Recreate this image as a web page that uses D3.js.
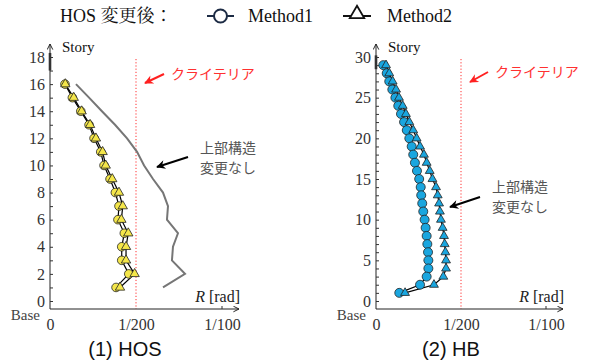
<!DOCTYPE html>
<html>
<head>
<meta charset="utf-8">
<script src="https://cdn.jsdelivr.net/npm/d3@7"></script>
<style>
  html, body { margin: 0; padding: 0; background: #fff; }
  svg { display: block; }
</style>
</head>
<body>
<script>
// story numbers (top -> bottom)
const hosStories = [16, 15, 14, 13, 12, 11, 10, 9, 8, 7, 6, 5, 4, 3, 2, 1];
const hbStories = d3.range(29, 0, -1);

// story drift angle R [rad]
const hosMethod1 = [0.00087, 0.00130, 0.00179, 0.00227, 0.00256, 0.00295, 0.00314, 0.00349,
  0.00380, 0.00401, 0.00395, 0.00432, 0.00417, 0.00417, 0.00458, 0.00384];
const hosMethod2 = [0.00089, 0.00138, 0.00184, 0.00233, 0.00267, 0.00306, 0.00324, 0.00362,
  0.00401, 0.00423, 0.00415, 0.00455, 0.00442, 0.00442, 0.00492, 0.00407];
const hosOriginal = [0.00151, 0.00227, 0.00302, 0.00378, 0.00448, 0.00506, 0.00547, 0.00599,
  0.00657, 0.00686, 0.00680, 0.00744, 0.00715, 0.00709, 0.00785, 0.00657];

const hbMethod1 = [0.00043, 0.00063, 0.00078, 0.00096, 0.00114, 0.00131, 0.00147, 0.00165,
  0.00181, 0.00196, 0.00210, 0.00219, 0.00229, 0.00241, 0.00254, 0.00263, 0.00266, 0.00272,
  0.00278, 0.00286, 0.00292, 0.00298, 0.00302, 0.00306, 0.00308, 0.00308, 0.00298, 0.00259, 0.00137];
const hbMethod2 = [0.00059, 0.00078, 0.00098, 0.00118, 0.00135, 0.00157, 0.00176, 0.00196,
  0.00219, 0.00239, 0.00259, 0.00282, 0.00298, 0.00316, 0.00332, 0.00353, 0.00363, 0.00371,
  0.00376, 0.00382, 0.00392, 0.00400, 0.00404, 0.00408, 0.00412, 0.00412, 0.00396, 0.00341, 0.00171];

const criteria = 1 / 200;
const xTicks = [0, 1 / 200, 1 / 100];
const xTickLabels = ['0', '1/200', '1/100'];

const serif = "'Liberation Serif', 'DejaVu Serif', 'Noto Serif', serif";
const sans = "'Liberation Sans', Arial, sans-serif";
const jp = "'Noto Sans CJK JP', sans-serif";
const legendFont = "'Liberation Serif', 'Noto Serif CJK JP', 'Noto Sans CJK JP', serif";

const width = 601;
const height = 362;

const svg = d3.select('body').append('svg')
  .attr('width', width)
  .attr('height', height)
  .style('background', '#ffffff');

const defs = svg.append('defs');
function arrowMarker(id, color) {
  defs.append('marker')
    .attr('id', id)
    .attr('viewBox', '0 0 10 10')
    .attr('refX', 9)
    .attr('refY', 5)
    .attr('markerWidth', 7)
    .attr('markerHeight', 7)
    .attr('markerUnits', 'userSpaceOnUse')
    .attr('orient', 'auto')
    .append('path')
    .attr('d', 'M1,1 L9,5 L1,9')
    .attr('fill', 'none')
    .attr('stroke', color)
    .attr('stroke-width', 1.4);
}
arrowMarker('axis-arrow', '#222');
function filledArrow(id, color) {
  defs.append('marker')
    .attr('id', id)
    .attr('viewBox', '0 0 10 10')
    .attr('refX', 9)
    .attr('refY', 5)
    .attr('markerWidth', 11)
    .attr('markerHeight', 9)
    .attr('markerUnits', 'userSpaceOnUse')
    .attr('orient', 'auto')
    .append('path')
    .attr('d', 'M0,0 L10,5 L0,10 L3,5 Z')
    .attr('fill', color);
}
filledArrow('red-arrow', '#ff2020');
filledArrow('black-arrow', '#000');

// legend
const legend = svg.append('g');
legend.append('text')
  .attr('x', 60).attr('y', 22)
  .style('font-family', legendFont)
  .attr('font-size', 18)
  .attr('fill', '#111')
  .text('HOS 変更後：');
legend.append('line').attr('x1', 207).attr('x2', 234).attr('y1', 16).attr('y2', 16)
  .attr('stroke', '#1c2b44').attr('stroke-width', 2);
legend.append('circle').attr('cx', 220.5).attr('cy', 16).attr('r', 6.5)
  .attr('fill', '#fff').attr('stroke', '#1c2b44').attr('stroke-width', 2);
legend.append('text').attr('x', 248).attr('y', 22)
  .style('font-family', serif).attr('font-size', 18).attr('fill', '#111').text('Method1');
legend.append('line').attr('x1', 343).attr('x2', 371).attr('y1', 16).attr('y2', 16)
  .attr('stroke', '#111').attr('stroke-width', 2);
legend.append('path')
  .attr('d', d3.symbol(d3.symbolTriangle, 90)())
  .attr('transform', 'translate(357,14)')
  .attr('fill', '#fff').attr('stroke', '#111').attr('stroke-width', 1.8);
legend.append('text').attr('x', 387).attr('y', 22)
  .style('font-family', serif).attr('font-size', 18).attr('fill', '#111').text('Method2');

function drawPanel(opt) {
  const g = svg.append('g');
  const x = d3.scaleLinear().domain([0, 0.01]).range([opt.x0, opt.x1]);
  const y = d3.scaleLinear().domain([0, opt.yMax]).range([301, 57]);
  const axisY = 309;

  // criteria line
  g.append('line')
    .attr('x1', x(criteria)).attr('x2', x(criteria))
    .attr('y1', 59).attr('y2', axisY)
    .attr('stroke', '#ff3030')
    .attr('stroke-width', 1)
    .attr('stroke-dasharray', '1.2 2');

  // y axis
  g.append('line')
    .attr('x1', opt.x0).attr('x2', opt.x0)
    .attr('y1', axisY).attr('y2', 44)
    .attr('stroke', '#222').attr('stroke-width', 1)
    .attr('marker-end', 'url(#axis-arrow)');
  g.append('line')
    .attr('x1', opt.x0).attr('x2', opt.x0)
    .attr('y1', y(opt.thickTop)).attr('y2', y(opt.thickBottom))
    .attr('stroke', '#333').attr('stroke-width', 2.6);

  const minor = g.append('g')
    .attr('transform', `translate(${opt.x0},0)`)
    .call(d3.axisRight(y).tickValues(d3.range(0, opt.yMax + 1)).tickSize(3).tickFormat(''));
  minor.select('.domain').remove();
  minor.selectAll('line').attr('stroke', '#333');

  const labels = g.append('g')
    .attr('transform', `translate(${opt.x0},0)`)
    .call(d3.axisLeft(y).tickValues(d3.range(0, opt.yMax + 1, opt.yStep)).tickSize(0).tickPadding(5));
  labels.select('.domain').remove();
  labels.attr('font-family', null).attr('font-size', null);
  labels.selectAll('text')
    .style('font-family', serif)
    .style('font-size', '16px')
    .attr('fill', '#333');

  // x axis
  g.append('line')
    .attr('x1', opt.x0).attr('x2', opt.x1 + 17)
    .attr('y1', axisY).attr('y2', axisY)
    .attr('stroke', '#222').attr('stroke-width', 1)
    .attr('marker-end', 'url(#axis-arrow)');
  g.append('line')
    .attr('x1', x(0.01)).attr('x2', x(0.01))
    .attr('y1', axisY).attr('y2', axisY - 3)
    .attr('stroke', '#333');

  const xl = g.append('g')
    .attr('transform', `translate(0,${axisY})`)
    .call(d3.axisBottom(x).tickValues(xTicks).tickSize(0).tickPadding(10)
      .tickFormat((d, i) => xTickLabels[i]));
  xl.select('.domain').remove();
  xl.attr('font-family', null).attr('font-size', null);
  xl.selectAll('text')
    .style('font-family', serif)
    .style('font-size', '16px')
    .attr('fill', '#333');

  g.append('text')
    .attr('x', opt.x0 + 12).attr('y', 52)
    .style('font-family', serif).attr('font-size', 15).attr('fill', '#111')
    .text('Story');
  g.append('text')
    .attr('x', opt.x0 - 10).attr('y', 320)
    .attr('text-anchor', 'end')
    .style('font-family', serif).attr('font-size', 15).attr('fill', '#444')
    .text('Base');
  const rl = g.append('text')
    .attr('x', opt.x1 + 18).attr('y', 302)
    .attr('text-anchor', 'end')
    .style('font-family', serif).attr('font-size', 16).attr('fill', '#222');
  rl.append('tspan').attr('font-style', 'italic').text('R');
  rl.append('tspan').text(' [rad]');

  // data lines
  const line = d3.line().x(d => x(d.r)).y(d => y(d.s));
  if (opt.original) {
    g.append('path')
      .datum(opt.stories.map((s, i) => ({ s, r: opt.original[i] })))
      .attr('d', line)
      .attr('fill', 'none')
      .attr('stroke', '#767676')
      .attr('stroke-width', 2);
  }
  const m1 = opt.stories.map((s, i) => ({ s, r: opt.m1[i] }));
  const m2 = opt.stories.map((s, i) => ({ s, r: opt.m2[i] }));

  g.append('path').datum(m1).attr('d', line)
    .attr('fill', 'none').attr('stroke', '#000').attr('stroke-width', 1.2);
  g.append('path').datum(m2).attr('d', line)
    .attr('fill', 'none').attr('stroke', '#000').attr('stroke-width', 1.2);

  g.selectAll('circle.m1').data(m1).enter().append('circle')
    .attr('class', 'm1')
    .attr('cx', d => x(d.r)).attr('cy', d => y(d.s))
    .attr('r', opt.circleR)
    .attr('fill', opt.fill).attr('stroke', '#222').attr('stroke-width', 0.8);

  g.selectAll('path.m2').data(m2).enter().append('path')
    .attr('class', 'm2')
    .attr('d', d3.symbol(d3.symbolTriangle, opt.triSize)())
    .attr('transform', d => `translate(${x(d.r)},${y(d.s)})`)
    .attr('fill', opt.fill).attr('stroke', '#222').attr('stroke-width', 0.8);

  // annotations
  g.append('line')
    .attr('x1', opt.critArrow[0]).attr('y1', opt.critArrow[1])
    .attr('x2', opt.critArrow[2]).attr('y2', opt.critArrow[3])
    .attr('stroke', '#ff2020').attr('stroke-width', 2)
    .attr('marker-end', 'url(#red-arrow)');
  g.append('text')
    .attr('x', opt.critText[0]).attr('y', opt.critText[1])
    .style('font-family', jp).attr('font-size', 14).attr('fill', '#ff3030')
    .text('クライテリア');

  g.append('line')
    .attr('x1', opt.noteArrow[0]).attr('y1', opt.noteArrow[1])
    .attr('x2', opt.noteArrow[2]).attr('y2', opt.noteArrow[3])
    .attr('stroke', '#000').attr('stroke-width', 2)
    .attr('marker-end', 'url(#black-arrow)');
  const note = g.append('text')
    .style('font-family', jp).attr('font-size', 14).attr('fill', '#555');
  note.append('tspan').attr('x', opt.noteText[0]).attr('y', opt.noteText[1]).text('上部構造');
  note.append('tspan').attr('x', opt.noteText[0]).attr('y', opt.noteText[1] + 20).text('変更なし');

  g.append('text')
    .attr('x', opt.captionX).attr('y', 356)
    .attr('text-anchor', 'middle')
    .style('font-family', sans).attr('font-size', 20).attr('fill', '#111')
    .text(opt.caption);
}

drawPanel({
  x0: 50, x1: 222, yMax: 18, yStep: 2,
  thickTop: 18.3, thickBottom: 17,
  stories: hosStories, m1: hosMethod1, m2: hosMethod2, original: hosOriginal,
  fill: '#f4e64a', circleR: 4.3, triSize: 38,
  critArrow: [164, 74, 145, 83], critText: [171, 79],
  noteArrow: [188, 157, 157, 167], noteText: [200, 153],
  caption: '(1) HOS', captionX: 125
});

drawPanel({
  x0: 376, x1: 546, yMax: 30, yStep: 5,
  thickTop: 30.2, thickBottom: 28.5,
  stories: hbStories, m1: hbMethod1, m2: hbMethod2, original: null,
  fill: '#1aa6df', circleR: 4.5, triSize: 34,
  critArrow: [488, 72, 470, 82], critText: [495, 77],
  noteArrow: [480, 197, 450, 207], noteText: [492, 192],
  caption: '(2) HB', captionX: 451
});
</script>
</body>
</html>
